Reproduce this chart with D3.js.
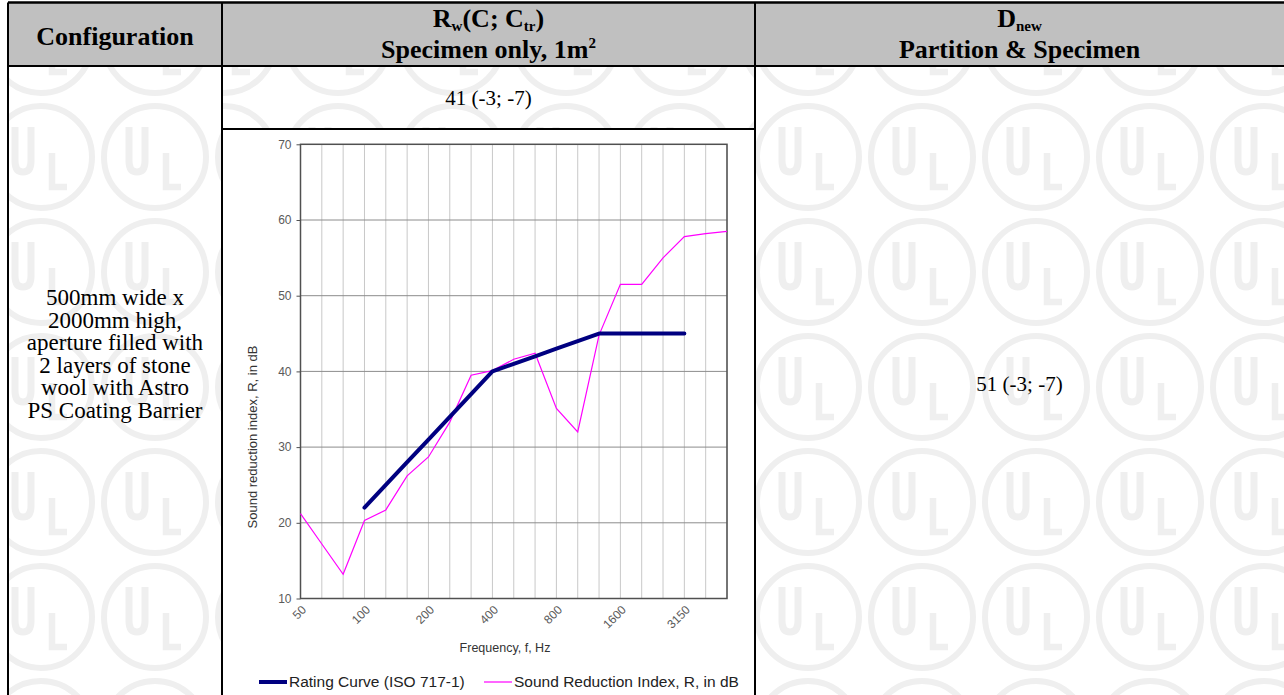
<!DOCTYPE html>
<html>
<head>
<meta charset="utf-8">
<script src="https://cdn.jsdelivr.net/npm/d3@7"></script>
<style>
  body { margin: 0; background: #fff; }
  svg { display: block; }
</style>
</head>
<body>
<script>
var w = 1284;
var h = 695;

// one-third octave bands, Hz
var bands = ["50","63","80","100","125","160","200","250","315","400","500",
             "630","800","1000","1250","1600","2000","2500","3150","4000","5000"];
var tickBands = ["50","100","200","400","800","1600","3150"];
var yTicks = [10, 20, 30, 40, 50, 60, 70];

// rating curve (ISO 717-1), 100 - 3150 Hz
var ratingBands = ["100","125","160","200","250","315","400","500","630","800",
                   "1000","1250","1600","2000","2500","3150"];
var ratingValues = [22, 25, 28, 31, 34, 37, 40, 41, 42, 43, 44, 45, 45, 45, 45, 45];

// measured sound reduction index R, dB
var measuredValues = [21.2, 17.2, 13.2, 20.3, 21.7, 26.2, 28.7, 33.3, 39.5, 40.1, 41.6,
                      42.4, 35.1, 32.0, 44.8, 51.5, 51.5, 55.0, 57.8, 58.2, 58.5];

var seriesNames = ["Rating Curve (ISO 717-1)", "Sound Reduction Index, R, in dB"];
var seriesColors = ["#000080", "#ff00ff"];

var configText = ["500mm wide x", "2000mm high,", "aperture filled with",
                  "2 layers of stone", "wool with Astro", "PS Coating Barrier"];
var rwValue = "41 (-3; -7)";
var dnewValue = "51 (-3; -7)";

var serif = "'Liberation Serif', 'Times New Roman', serif";
var sans = "'Liberation Sans', Arial, sans-serif";

//table geometry
var colX = [8, 222, 755, 1284];
var headTop = 2.5, headBottom = 66, subRow = 129;

var svg = d3.select("body")
            .append("svg")
            .attr("width", w)
            .attr("height", h);
var defs = svg.append("defs");

svg.append("rect").attr("width", w).attr("height", h).attr("fill", "#fff");

//UL watermark tiles, clipped to a cell
function watermark(id, x0, y0, x1, y1, cx, cy) {
  defs.append("clipPath").attr("id", id)
      .append("rect").attr("x", x0).attr("y", y0)
      .attr("width", x1 - x0).attr("height", y1 - y0);
  var g = svg.append("g").attr("clip-path", "url(#" + id + ")");
  var xs = d3.range(cx - 114 * 12, x1 + 114, 114).filter(function(d) { return d > x0 - 70; });
  var ys = d3.range(cy - 115 * 2, y1 + 115, 115).filter(function(d) { return d > y0 - 70; });
  ys.forEach(function(ty) {
    xs.forEach(function(tx) {
      var t = g.append("g").attr("transform", "translate(" + tx + "," + ty + ")")
               .attr("fill", "none").attr("stroke", "#efefef");
      t.append("circle").attr("r", 51).attr("stroke-width", 6);
      t.append("path").attr("d", "M-26,-30 V4 Q-26,15 -18,15 Q-10,15 -10,4 V-30")
       .attr("stroke-width", 7);
      t.append("path").attr("d", "M11,-4 V30 H26").attr("stroke-width", 6.5);
    });
  });
}
watermark("wm1", colX[0], headBottom, colX[1], h, 155, 157);
watermark("wm2", colX[1], headBottom, colX[2], subRow, 680, 157);
watermark("wm3", colX[2], headBottom, colX[3], h, 808, 157);

//header background
svg.append("rect").attr("x", colX[0]).attr("y", headTop)
   .attr("width", w - colX[0]).attr("height", headBottom - headTop)
   .attr("fill", "#c0c0c0");

//chart cell background
svg.append("rect").attr("x", colX[1]).attr("y", subRow)
   .attr("width", colX[2] - colX[1]).attr("height", h - subRow)
   .attr("fill", "#fff");

//table rules
var rules = [
  [colX[0], headTop, w, headTop, 2.5],
  [colX[0], headBottom, w, headBottom, 2],
  [colX[1], subRow, colX[2], subRow, 2],
  [colX[0], headTop, colX[0], h, 2],
  [colX[1], headTop, colX[1], h, 2],
  [colX[2], headTop, colX[2], h, 2]
];
svg.selectAll("line.rule").data(rules).enter().append("line")
   .attr("class", "rule")
   .attr("x1", function(d) { return d[0]; }).attr("y1", function(d) { return d[1]; })
   .attr("x2", function(d) { return d[2]; }).attr("y2", function(d) { return d[3]; })
   .attr("stroke", "#000").attr("stroke-width", function(d) { return d[4]; });

//header texts
var head = svg.append("g").attr("font-family", serif).attr("font-weight", "bold")
              .attr("font-size", 26).attr("text-anchor", "middle").attr("fill", "#000");
head.append("text").attr("x", (colX[0] + colX[1]) / 2).attr("y", 45).text("Configuration");

var h2a = head.append("text").attr("x", (colX[1] + colX[2]) / 2).attr("y", 27);
h2a.append("tspan").text("R");
h2a.append("tspan").attr("font-size", 15).attr("dy", 4).text("w");
h2a.append("tspan").attr("dy", -4).text("(C; C");
h2a.append("tspan").attr("font-size", 15).attr("dy", 4).text("tr");
h2a.append("tspan").attr("dy", -4).text(")");
var h2b = head.append("text").attr("x", (colX[1] + colX[2]) / 2).attr("y", 58);
h2b.append("tspan").text("Specimen only, 1m");
h2b.append("tspan").attr("font-size", 15).attr("dy", -10).text("2");

var h3a = head.append("text").attr("x", (colX[2] + colX[3]) / 2).attr("y", 27);
h3a.append("tspan").text("D");
h3a.append("tspan").attr("font-size", 15).attr("dy", 4).text("new");
head.append("text").attr("x", (colX[2] + colX[3]) / 2).attr("y", 58).text("Partition & Specimen");

//body texts
var body = svg.append("g").attr("font-family", serif).attr("font-size", 21)
              .attr("text-anchor", "middle").attr("fill", "#000");
body.selectAll("text.cfg").data(configText).enter().append("text")
    .attr("class", "cfg")
    .attr("x", (colX[0] + colX[1]) / 2)
    .attr("y", function(d, i) { return 305 + i * 22.6; })
    .attr("font-size", 23)
    .text(function(d) { return d; });
body.append("text").attr("x", (colX[1] + colX[2]) / 2).attr("y", 105).text(rwValue);
body.append("text").attr("x", (colX[2] + colX[3]) / 2).attr("y", 391).text(dnewValue);

//chart
var x = d3.scalePoint().domain(bands).range([300.5, 727]);
var y = d3.scaleLinear().domain([10, 70]).range([598.5, 144.3]);

var chart = svg.append("g");

chart.selectAll("line.vgrid").data(bands).enter().append("line")
     .attr("class", "vgrid")
     .attr("x1", function(d) { return x(d); }).attr("x2", function(d) { return x(d); })
     .attr("y1", y(70)).attr("y2", y(10))
     .attr("stroke", "#c8c8c8").attr("stroke-width", 1);

chart.selectAll("line.hgrid").data(yTicks.slice(1, -1)).enter().append("line")
     .attr("class", "hgrid")
     .attr("x1", x.range()[0]).attr("x2", x.range()[1])
     .attr("y1", function(d) { return y(d); }).attr("y2", function(d) { return y(d); })
     .attr("stroke", "#8c8c8c").attr("stroke-width", 1);

chart.append("rect")
     .attr("x", x.range()[0]).attr("y", y(70))
     .attr("width", x.range()[1] - x.range()[0]).attr("height", y(10) - y(70))
     .attr("fill", "none").attr("stroke", "#505050").attr("stroke-width", 1.5);

var yAxis = chart.append("g")
     .attr("transform", "translate(" + x.range()[0] + ",0)")
     .call(d3.axisLeft(y).tickValues(yTicks).tickSize(4).tickPadding(5));
yAxis.select(".domain").remove();
yAxis.selectAll("line").attr("stroke", "#505050");
yAxis.selectAll("text").attr("font-family", sans).attr("font-size", 12).attr("fill", "#5a5a5a");

var xAxis = chart.append("g")
     .attr("transform", "translate(0," + y(10) + ")")
     .call(d3.axisBottom(x).tickValues(tickBands).tickSize(0));
xAxis.select(".domain").remove();
xAxis.selectAll("text")
     .attr("font-family", sans).attr("font-size", 12).attr("fill", "#5a5a5a")
     .attr("text-anchor", "end")
     .attr("dy", "0.35em")
     .attr("transform", "translate(3,9) rotate(-45)")
     .attr("y", 0).attr("x", 0);

chart.append("text")
     .attr("x", 505).attr("y", 652)
     .attr("text-anchor", "middle")
     .attr("font-family", sans).attr("font-size", 12.5).attr("fill", "#333")
     .text("Frequency, f, Hz");

chart.append("text")
     .attr("transform", "translate(257,437) rotate(-90)")
     .attr("text-anchor", "middle")
     .attr("font-family", sans).attr("font-size", 13).attr("fill", "#333")
     .text("Sound reduction index, R, in dB");

var line = d3.line()
     .x(function(d) { return x(d[0]); })
     .y(function(d) { return y(d[1]); });

chart.append("path")
     .datum(bands.map(function(b, i) { return [b, measuredValues[i]]; }))
     .attr("d", line)
     .attr("fill", "none").attr("stroke", seriesColors[1]).attr("stroke-width", 1.2);

chart.append("path")
     .datum(ratingBands.map(function(b, i) { return [b, ratingValues[i]]; }))
     .attr("d", line)
     .attr("fill", "none").attr("stroke", seriesColors[0]).attr("stroke-width", 4)
     .attr("stroke-linecap", "round").attr("stroke-linejoin", "round");

//legend
var legendX = [259, 484];
var legend = chart.selectAll("g.legend").data(seriesNames).enter().append("g")
     .attr("class", "legend")
     .attr("transform", function(d, i) { return "translate(" + legendX[i] + ",682)"; });
legend.append("line")
     .attr("x1", 0).attr("x2", 28)
     .attr("stroke", function(d, i) { return seriesColors[i]; })
     .attr("stroke-width", function(d, i) { return i === 0 ? 4 : 1.2; });
legend.append("text")
     .attr("x", 30).attr("dy", "0.35em")
     .attr("font-family", sans).attr("font-size", 15.5).attr("fill", "#222")
     .text(function(d) { return d; });
</script>
</body>
</html>
